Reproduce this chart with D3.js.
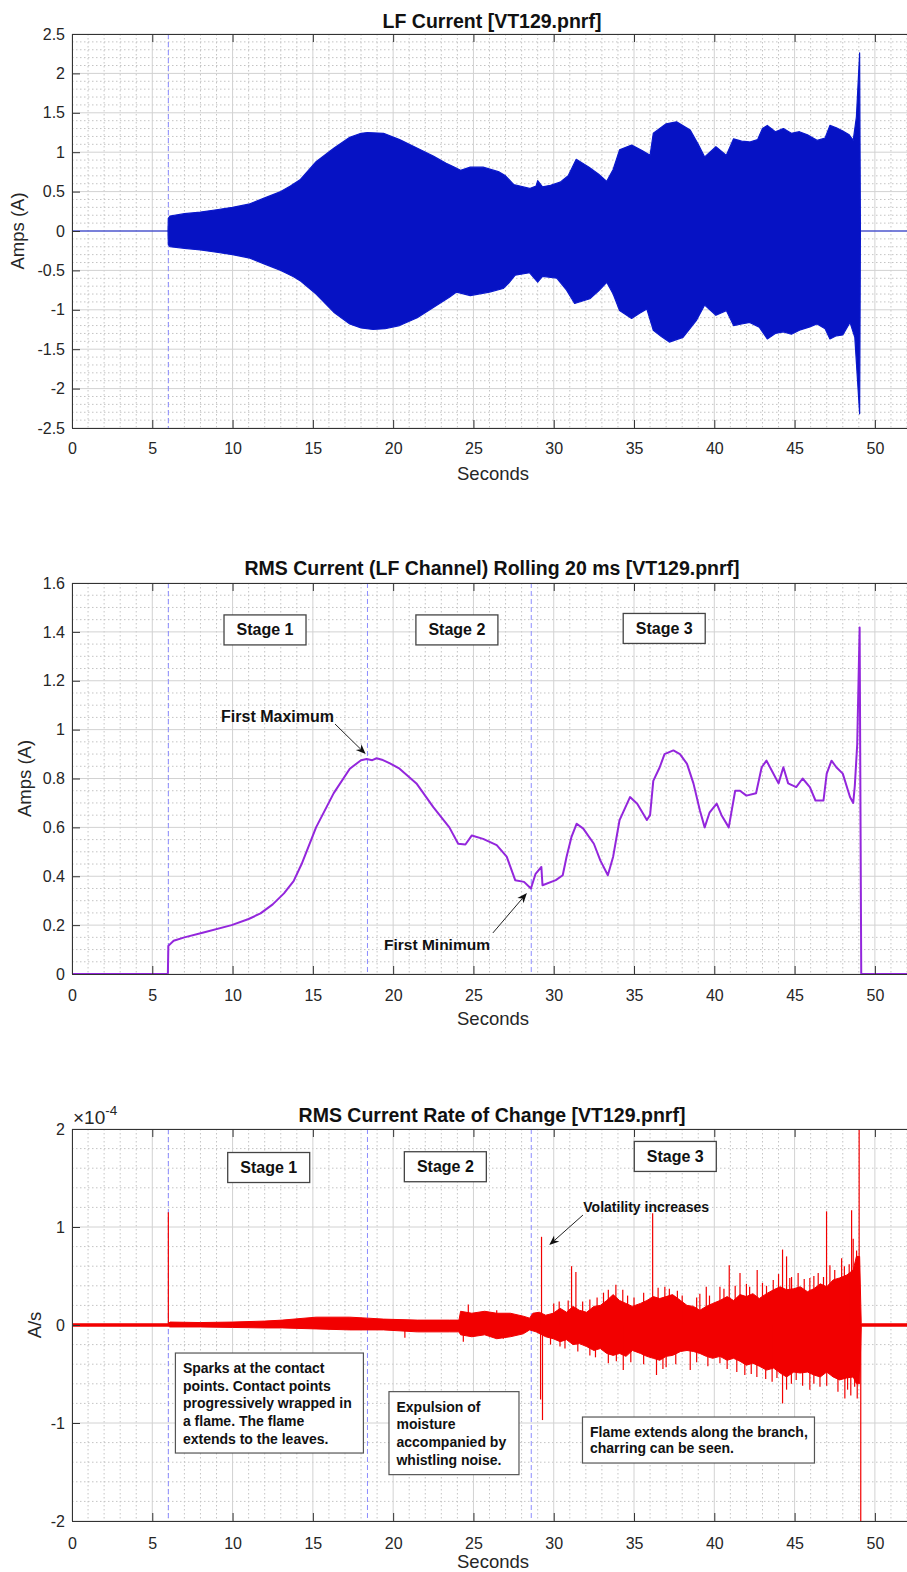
<!DOCTYPE html>
<html>
<head>
<meta charset="utf-8">
<script src="https://cdn.jsdelivr.net/npm/d3@7"></script>
<style>
  body { margin: 0; background: #fff; }
  svg { display: block; }
</style>
</head>
<body>
<svg id="fig" width="907" height="1572"></svg>
<script>
// ---------- data ----------
// Shared time axis (seconds)
const xTicks = [0, 5, 10, 15, 20, 25, 30, 35, 40, 45, 50];
const xTickLabels = ["0", "5", "10", "15", "20", "25", "30", "35", "40", "45", "50"];
const stageBounds = [6.0, 18.4, 28.6];

// LF current: positive and negative envelope of the mains-frequency waveform [s, A]
const lfUpper = [
  [0, 0], [5.98, 0], [6.0, 0.16], [6.1, 0.19], [7, 0.22], [8, 0.24], [9, 0.27], [10, 0.30],
  [11, 0.34], [12, 0.42], [13, 0.50], [13.6, 0.57], [14.2, 0.65], [15.2, 0.88], [16.3, 1.05],
  [17.3, 1.19], [18.0, 1.24], [18.4, 1.25], [19.4, 1.24], [20.4, 1.16], [21.7, 1.03],
  [22.5, 0.95], [23.3, 0.86], [23.7, 0.82], [24.2, 0.77], [24.8, 0.81], [25.6, 0.81],
  [26.6, 0.75], [27.0, 0.70], [27.5, 0.59], [28.5, 0.54], [28.9, 0.57], [29.0, 0.64],
  [29.3, 0.56], [29.8, 0.58], [30.4, 0.62], [30.9, 0.70], [31.4, 0.91], [32.2, 0.81],
  [32.8, 0.72], [33.3, 0.63], [33.7, 0.78], [34.1, 1.03], [34.85, 1.09], [35.5, 1.02],
  [36.0, 0.96], [36.2, 1.24], [36.6, 1.30], [37.0, 1.36], [37.65, 1.385], [38.5, 1.28],
  [39.0, 1.10], [39.4, 0.94], [40.1, 1.07], [40.4, 1.02], [40.75, 0.96], [41.2, 1.17],
  [41.7, 1.14], [42.2, 1.13], [42.7, 1.16], [43.0, 1.30], [43.3, 1.34], [43.8, 1.26],
  [44.3, 1.30], [44.8, 1.24], [45.3, 1.26], [45.8, 1.22], [46.4, 1.15], [46.9, 1.18],
  [47.2, 1.34], [47.6, 1.31], [48.0, 1.27], [48.4, 1.22], [48.65, 1.15], [48.85, 1.45],
  [49.05, 2.26], [49.1, 0], [52, 0]
];
const lfLower = [
  [0, 0], [5.98, 0], [6.0, -0.17], [6.1, -0.20], [7, -0.22], [8, -0.24], [9, -0.27],
  [10, -0.30], [11, -0.34], [12, -0.42], [13, -0.50], [13.8, -0.58], [14.2, -0.63],
  [15.2, -0.80], [16.3, -1.03], [17.3, -1.18], [18.0, -1.23], [18.75, -1.25], [19.5, -1.24],
  [20.4, -1.20], [21.5, -1.10], [22.5, -0.97], [23.5, -0.84], [23.95, -0.775], [24.8, -0.82],
  [26.0, -0.775], [26.85, -0.73], [27.2, -0.66], [27.6, -0.56], [28.5, -0.53], [29.0, -0.65],
  [29.3, -0.575], [30.2, -0.60], [30.8, -0.75], [31.3, -0.92], [32.25, -0.86], [32.8, -0.76],
  [33.3, -0.65], [33.7, -0.80], [34.1, -1.01], [34.85, -1.11], [35.3, -1.05], [35.8, -0.99],
  [36.2, -1.26], [36.7, -1.34], [37.2, -1.41], [38.05, -1.35], [38.9, -1.13], [39.4, -0.94],
  [40.1, -1.07], [40.75, -1.01], [41.2, -1.20], [41.7, -1.18], [42.2, -1.16], [42.8, -1.22],
  [43.3, -1.37], [43.8, -1.30], [44.3, -1.28], [44.8, -1.31], [45.3, -1.26], [45.9, -1.22],
  [46.4, -1.18], [46.9, -1.24], [47.2, -1.37], [47.6, -1.33], [48.0, -1.32], [48.45, -1.16],
  [48.75, -1.35], [49.05, -2.32], [49.1, 0], [52, 0]
];

// RMS current, rolling 20 ms window [s, A]
const rmsCurrent = [
  [0, 0], [5.97, 0], [6.0, 0.115], [6.33, 0.136], [7, 0.15], [8.13, 0.169], [9.94, 0.20],
  [11.0, 0.225], [11.74, 0.248], [12.5, 0.285], [13.2, 0.33], [13.8, 0.38], [14.3, 0.45],
  [15.2, 0.60], [16.3, 0.74], [17.3, 0.84], [18.0, 0.875], [18.35, 0.88], [18.7, 0.875],
  [18.97, 0.883], [19.3, 0.877], [19.8, 0.862], [20.4, 0.84], [21.45, 0.78], [22.5, 0.683],
  [23.5, 0.60], [24.05, 0.533], [24.5, 0.53], [24.9, 0.567], [25.6, 0.553], [26.45, 0.527],
  [27.07, 0.48], [27.24, 0.45], [27.6, 0.384], [28.15, 0.377], [28.58, 0.35], [28.87, 0.41],
  [29.23, 0.438], [29.3, 0.363], [30.13, 0.384], [30.56, 0.404], [30.8, 0.48], [31.1, 0.56],
  [31.43, 0.615], [31.84, 0.595], [32.5, 0.533], [32.9, 0.465], [33.37, 0.404], [33.7, 0.48],
  [34.1, 0.63], [34.75, 0.724], [35.2, 0.697], [35.8, 0.63], [36.0, 0.65], [36.2, 0.79],
  [36.6, 0.846], [36.9, 0.90], [37.45, 0.915], [37.86, 0.90], [38.3, 0.86], [38.7, 0.78],
  [39.1, 0.67], [39.4, 0.60], [39.7, 0.66], [40.15, 0.697], [40.45, 0.65], [40.9, 0.60],
  [41.3, 0.75], [41.6, 0.75], [42.0, 0.73], [42.6, 0.74], [42.95, 0.846], [43.25, 0.873],
  [43.6, 0.83], [44.0, 0.78], [44.3, 0.846], [44.6, 0.78], [45.1, 0.765], [45.5, 0.80],
  [45.95, 0.765], [46.3, 0.71], [46.8, 0.71], [47.0, 0.82], [47.3, 0.873], [47.6, 0.846],
  [48.0, 0.82], [48.45, 0.724], [48.65, 0.70], [48.75, 0.77], [48.9, 0.94], [49.05, 1.418],
  [49.15, 0], [52, 0]
];

// RMS rate of change, in units of 1e-4 A/s: dense core band plus isolated excursions
const rocUpper = [
  [0, 0.012], [6, 0.012], [6.1, 0.03], [8, 0.025], [10, 0.03], [12, 0.04], [13.1, 0.05],
  [15.2, 0.08], [17.3, 0.08], [18.4, 0.07], [19.4, 0.06], [21.5, 0.05], [23.5, 0.05],
  [24.1, 0.05], [24.2, 0.14], [24.9, 0.12], [25.7, 0.14], [26.45, 0.12], [27.3, 0.12],
  [28.1, 0.09], [28.5, 0.07], [28.7, 0.12], [29.1, 0.13], [29.5, 0.10], [29.97, 0.12],
  [30.4, 0.17], [30.8, 0.13], [31.2, 0.19], [31.6, 0.15], [32.05, 0.13], [32.5, 0.19],
  [32.9, 0.20], [33.3, 0.25], [33.7, 0.31], [34.1, 0.25], [34.5, 0.22], [34.9, 0.19],
  [35.4, 0.22], [35.8, 0.25], [36.2, 0.29], [36.6, 0.27], [37.0, 0.29], [37.4, 0.31],
  [37.9, 0.25], [38.3, 0.20], [38.7, 0.19], [39.1, 0.15], [39.5, 0.19], [39.9, 0.22],
  [40.35, 0.25], [40.8, 0.29], [41.2, 0.25], [41.6, 0.31], [42.0, 0.29], [42.4, 0.32],
  [42.8, 0.27], [43.25, 0.32], [43.7, 0.36], [44.1, 0.39], [44.5, 0.36], [44.95, 0.37],
  [45.35, 0.39], [45.8, 0.34], [46.2, 0.37], [46.6, 0.42], [47.0, 0.39], [47.4, 0.46],
  [47.8, 0.48], [48.25, 0.51], [48.65, 0.56], [48.85, 0.70], [49.05, 0.70], [49.15, 0.012],
  [52, 0.012]
];
const rocLower = [
  [0, -0.012], [6, -0.012], [6.1, -0.02], [8, -0.02], [10, -0.025], [12, -0.03],
  [13.1, -0.03], [15.2, -0.04], [17.3, -0.05], [19.4, -0.05], [21.5, -0.07], [23.5, -0.07],
  [24.1, -0.07], [24.2, -0.10], [24.9, -0.12], [25.7, -0.10], [26.45, -0.14], [27.3, -0.12],
  [28.1, -0.09], [28.5, -0.05], [28.9, -0.07], [29.5, -0.12], [29.97, -0.14], [30.4, -0.17],
  [30.8, -0.15], [31.2, -0.20], [31.6, -0.19], [32.05, -0.22], [32.5, -0.26], [32.9, -0.24],
  [33.3, -0.29], [33.7, -0.31], [34.1, -0.29], [34.5, -0.32], [34.9, -0.26], [35.4, -0.29],
  [35.8, -0.32], [36.2, -0.34], [36.6, -0.36], [37.0, -0.32], [37.4, -0.31], [37.9, -0.27],
  [38.3, -0.26], [38.7, -0.27], [39.1, -0.29], [39.5, -0.32], [39.9, -0.34], [40.35, -0.32],
  [40.8, -0.36], [41.2, -0.34], [41.6, -0.37], [42.0, -0.41], [42.4, -0.39], [42.8, -0.42],
  [43.25, -0.46], [43.7, -0.44], [44.1, -0.49], [44.5, -0.53], [44.95, -0.48], [45.35, -0.49],
  [45.8, -0.48], [46.2, -0.51], [46.6, -0.53], [47.0, -0.48], [47.4, -0.53], [47.8, -0.56],
  [48.25, -0.54], [48.65, -0.53], [48.85, -0.60], [49.05, -0.60], [49.15, -0.012],
  [52, -0.012]
];
const rocSpikes = [
  [0.0, 2.5], [6.0, 1.15], [20.73, -0.13], [24.37, -0.17], [24.68, 0.21], [26.45, 0.15],
  [26.86, -0.14], [29.18, -0.76], [29.24, 0.90], [29.3, -0.97], [29.8, -0.20], [30.0, 0.22],
  [30.34, 0.24], [30.39, -0.22], [30.7, -0.24], [30.9, 0.25], [31.11, 0.60], [31.38, 0.54],
  [31.5, -0.27], [31.8, 0.24], [32.25, 0.26], [32.25, -0.31], [32.6, -0.33], [32.7, 0.28],
  [33.1, 0.33], [33.4, 0.36], [33.4, -0.39], [33.87, 0.41], [33.9, -0.37], [34.3, 0.36],
  [34.33, -0.46], [34.6, 0.30], [34.8, -0.38], [35.0, 0.28], [35.6, 0.33], [35.6, -0.40],
  [36.16, 1.14], [36.4, -0.51], [36.5, 0.38], [36.8, -0.45], [36.92, 0.39], [37.0, -0.43],
  [37.2, 0.37], [37.6, -0.40], [37.7, 0.35], [38.0, 0.30], [38.5, -0.46], [38.9, 0.28],
  [38.9, -0.38], [39.1, 0.32], [39.5, 0.39], [39.6, -0.42], [39.7, 0.30], [40.35, 0.39],
  [40.35, -0.39], [40.6, 0.37], [40.8, -0.45], [40.93, 0.61], [41.3, 0.40], [41.4, -0.48],
  [41.6, 0.53], [41.9, -0.51], [42.0, 0.42], [42.2, 0.39], [42.3, -0.50], [42.65, -0.53],
  [42.67, 0.56], [43.0, 0.43], [43.2, -0.55], [43.25, 0.40], [43.6, -0.58], [43.67, 0.46],
  [43.9, -0.54], [44.0, 0.52], [44.25, 0.77], [44.25, -0.80], [44.5, 0.70], [44.5, -0.66],
  [44.7, 0.48], [44.8, -0.60], [44.81, 0.49], [45.1, -0.56], [45.22, 0.53], [45.5, -0.62],
  [45.6, 0.47], [45.95, 0.48], [45.95, -0.66], [46.2, 0.50], [46.2, -0.60], [46.47, 0.53],
  [46.58, -0.63], [46.8, 0.49], [46.99, 1.16], [47.0, -0.62], [47.2, 0.61], [47.4, -0.53],
  [47.5, 0.56], [47.6, 0.42], [47.7, -0.68], [47.93, 0.68], [48.1, 0.60], [48.13, -0.75],
  [48.24, 0.49], [48.3, -0.66], [48.4, 0.62], [48.5, -0.72], [48.55, 1.17], [48.65, 0.88],
  [48.74, -0.63], [48.86, 0.76], [48.9, -0.75], [49.02, 2.5], [49.12, -2.5]
];

// Panel tick sets
const lfTicks = [-2.5, -2, -1.5, -1, -0.5, 0, 0.5, 1, 1.5, 2, 2.5];
const lfTickLabels = ["-2.5", "-2", "-1.5", "-1", "-0.5", "0", "0.5", "1", "1.5", "2", "2.5"];
const rmsTicks = [0, 0.2, 0.4, 0.6, 0.8, 1, 1.2, 1.4, 1.6];
const rmsTickLabels = ["0", "0.2", "0.4", "0.6", "0.8", "1", "1.2", "1.4", "1.6"];
const rocTicks = [-2, -1, 0, 1, 2];
const rocTickLabels = ["-2", "-1", "0", "1", "2"];

// ---------- drawing ----------
const FONT = '"Liberation Sans", Arial, Helvetica, sans-serif';
const AX = "#333333";
const PLOT_L = 72, PLOT_R = 907;
const svg = d3.select("#fig");
svg.append("rect").attr("width", 907).attr("height", 1572).attr("fill", "#fff");

function arrow(g, x1, y1, x2, y2) {
  const ang = Math.atan2(y2 - y1, x2 - x1);
  const L = 10, Wd = 4;
  const bx = x2 - L * Math.cos(ang), by = y2 - L * Math.sin(ang);
  const nx = x2 - 0.7 * L * Math.cos(ang), ny = y2 - 0.7 * L * Math.sin(ang);
  const px = -Math.sin(ang) * Wd, py = Math.cos(ang) * Wd;
  g.append("line").attr("x1", x1).attr("y1", y1).attr("x2", nx).attr("y2", ny)
    .attr("stroke", "#222").attr("stroke-width", 1);
  g.append("path")
    .attr("d", `M${x2},${y2}L${bx + px},${by + py}L${nx},${ny}L${bx - px},${by - py}Z`)
    .attr("fill", "#111");
}

function panel(o) {
  const x = d3.scaleLinear().domain([0, 52]).range([PLOT_L, PLOT_R]);
  const y = d3.scaleLinear().domain(o.yDomain).range([o.bottom, o.top]);
  const g = svg.append("g");

  svg.append("clipPath").attr("id", "clip-" + o.id)
    .append("rect").attr("x", PLOT_L).attr("y", o.top)
    .attr("width", PLOT_R - PLOT_L).attr("height", o.bottom - o.top);

  // minor grid (dotted)
  const eps = 1e-9;
  const isMajor = (v, arr) => arr.some(a => Math.abs(a - v) < 1e-6);
  const minorX = d3.range(0, 52 + eps, 1).filter(v => !isMajor(v, xTicks));
  const minorY = d3.range(o.yDomain[0], o.yDomain[1] + eps, o.minorStep)
    .map(v => +v.toFixed(6)).filter(v => !isMajor(v, o.yTicks));
  const grid = g.append("g");
  grid.selectAll(".mx").data(minorX).join("line")
    .attr("x1", d => x(d)).attr("x2", d => x(d)).attr("y1", o.top).attr("y2", o.bottom)
    .attr("stroke", "#c4c4c4").attr("stroke-dasharray", "1.5,2.5");
  grid.selectAll(".my").data(minorY).join("line")
    .attr("y1", d => y(d)).attr("y2", d => y(d)).attr("x1", PLOT_L).attr("x2", PLOT_R)
    .attr("stroke", "#c4c4c4").attr("stroke-dasharray", "1.5,2.5");
  // major grid (solid)
  grid.selectAll(".gx").data(xTicks).join("line")
    .attr("x1", d => x(d)).attr("x2", d => x(d)).attr("y1", o.top).attr("y2", o.bottom)
    .attr("stroke", "#d2d2d2");
  grid.selectAll(".gy").data(o.yTicks).join("line")
    .attr("y1", d => y(d)).attr("y2", d => y(d)).attr("x1", PLOT_L).attr("x2", PLOT_R)
    .attr("stroke", "#d2d2d2");

  // stage boundaries
  g.append("g").selectAll("line").data(o.stageLines).join("line")
    .attr("x1", d => x(d)).attr("x2", d => x(d)).attr("y1", o.top).attr("y2", o.bottom)
    .attr("stroke", "#8c8cff").attr("stroke-dasharray", "5,3");

  const data = g.append("g").attr("clip-path", `url(#clip-${o.id})`);
  o.draw(data, x, y);

  // axes with inward ticks
  const styleAxis = sel => {
    sel.attr("font-family", FONT).attr("font-size", 16);
    sel.select(".domain").attr("stroke", AX);
    sel.selectAll(".tick line").attr("stroke", AX);
    sel.selectAll(".tick text").attr("fill", "#262626");
  };
  g.append("g").attr("transform", `translate(0,${o.bottom})`)
    .call(d3.axisBottom(x).tickValues(xTicks).tickFormat((d, i) => xTickLabels[i])
      .tickSizeInner(-8).tickSizeOuter(0).tickPadding(o.tickBase - o.bottom - 11.4))
    .call(styleAxis);
  g.append("g").attr("transform", `translate(0,${o.top})`)
    .call(d3.axisTop(x).tickValues(xTicks).tickFormat(() => "")
      .tickSizeInner(-8).tickSizeOuter(0))
    .call(styleAxis);
  g.append("g").attr("transform", `translate(${PLOT_L},0)`)
    .call(d3.axisLeft(y).tickValues(o.yTicks).tickFormat((d, i) => o.yTickLabels[i])
      .tickSizeInner(-8).tickSizeOuter(0).tickPadding(7))
    .call(styleAxis);

  // titles and labels
  g.append("text").attr("x", 492).attr("y", o.titleBase).attr("text-anchor", "middle")
    .attr("font-family", FONT).attr("font-weight", "bold").attr("font-size", 19.5)
    .attr("fill", "#111").text(o.title);
  g.append("text").attr("x", 493).attr("y", o.xlabBase).attr("text-anchor", "middle")
    .attr("font-family", FONT).attr("font-size", 18.5).attr("fill", "#262626").text("Seconds");
  g.append("text").attr("transform", `translate(${o.ylabX},${(o.top + o.bottom) / 2}) rotate(-90)`)
    .attr("text-anchor", "middle").attr("font-family", FONT).attr("font-size", 18.5)
    .attr("fill", "#262626").text(o.ylabel);

  // stage boxes
  (o.stages || []).forEach(s => {
    const cx = x(s.t), cy = y(s.v);
    g.append("rect").attr("x", cx - 41).attr("y", cy - 15).attr("width", 82).attr("height", 30)
      .attr("fill", "#fff").attr("stroke", "#444").attr("stroke-width", 1.3);
    g.append("text").attr("x", cx).attr("y", cy + 5.5).attr("text-anchor", "middle")
      .attr("font-family", FONT).attr("font-weight", "bold").attr("font-size", 16)
      .attr("fill", "#111").text(s.label);
  });

  // callouts with arrows
  (o.callouts || []).forEach(c => {
    arrow(g, x(c.from[0]), y(c.from[1]), x(c.to[0]), y(c.to[1]));
    g.append("text").attr("x", x(c.at[0])).attr("y", y(c.at[1]) + 5).attr("text-anchor", "middle")
      .attr("font-family", FONT).attr("font-weight", "bold").attr("font-size", c.size)
      .attr("fill", "#111").text(c.text);
  });

  // note boxes
  (o.notes || []).forEach(n => {
    const lx = x(n.t), ty = y(n.v);
    g.append("rect").attr("x", lx).attr("y", ty).attr("width", n.w).attr("height", n.h)
      .attr("fill", "#fff").attr("stroke", "#555").attr("stroke-width", 1.2);
    n.lines.forEach((ln, i) => {
      g.append("text").attr("x", lx + 7.5).attr("y", ty + 20 + i * n.lh)
        .attr("font-family", FONT).attr("font-weight", "bold").attr("font-size", 14)
        .attr("fill", "#111").text(ln);
    });
  });

  return { g, x, y };
}

const polyLine = (x, y) => d3.line().x(d => x(d[0])).y(d => y(d[1]));

// Panel 1: LF current
panel({
  id: "lf", top: 34, bottom: 428, yDomain: [-2.5, 2.5],
  yTicks: lfTicks, yTickLabels: lfTickLabels, minorStep: 0.1,
  stageLines: [stageBounds[0]],
  title: "LF Current [VT129.pnrf]", titleBase: 28, tickBase: 454, xlabBase: 480,
  ylabel: "Amps (A)", ylabX: 24,
  draw: (g, x, y) => {
    const outline = lfUpper.concat(lfLower.slice().reverse());
    g.append("path").attr("d", polyLine(x, y)(outline) + "Z")
      .attr("fill", "#0612c4").attr("stroke", "#0a18cc").attr("stroke-width", 1.2)
      .attr("stroke-linejoin", "round");
  }
});

// Panel 2: RMS current
panel({
  id: "rms", top: 583, bottom: 974, yDomain: [0, 1.6],
  yTicks: rmsTicks, yTickLabels: rmsTickLabels, minorStep: 0.05,
  stageLines: stageBounds,
  title: "RMS Current (LF Channel) Rolling 20 ms [VT129.pnrf]", titleBase: 575,
  tickBase: 1001, xlabBase: 1025, ylabel: "Amps (A)", ylabX: 31,
  stages: [
    { t: 12.02, v: 1.408, label: "Stage 1" },
    { t: 23.97, v: 1.408, label: "Stage 2" },
    { t: 36.88, v: 1.414, label: "Stage 3" }
  ],
  callouts: [
    { text: "First Maximum", at: [12.8, 1.052], from: [16.38, 1.023], to: [18.29, 0.90], size: 16 },
    { text: "First Minimum", at: [22.73, 0.119], from: [26.21, 0.168], to: [28.33, 0.331], size: 15.5 }
  ],
  draw: (g, x, y) => {
    g.append("path").attr("d", polyLine(x, y)(rmsCurrent))
      .attr("fill", "none").attr("stroke", "#9326dc").attr("stroke-width", 2)
      .attr("stroke-linejoin", "round");
  }
});

// Panel 3: rate of change of RMS current
const p3 = panel({
  id: "roc", top: 1129, bottom: 1521, yDomain: [-2, 2],
  yTicks: rocTicks, yTickLabels: rocTickLabels, minorStep: 0.2,
  stageLines: stageBounds,
  title: "RMS Current Rate of Change [VT129.pnrf]", titleBase: 1122,
  tickBase: 1549, xlabBase: 1568, ylabel: "A/s", ylabX: 41,
  stages: [
    { t: 12.25, v: 1.607, label: "Stage 1" },
    { t: 23.25, v: 1.615, label: "Stage 2" },
    { t: 37.57, v: 1.72, label: "Stage 3" }
  ],
  callouts: [
    { text: "Volatility increases", at: [35.76, 1.207], from: [31.82, 1.122], to: [29.72, 0.816], size: 14 }
  ],
  notes: [
    { t: 6.44, v: -0.286, w: 188, h: 100, lh: 17.7,
      lines: ["Sparks at the contact", "points. Contact points", "progressively wrapped in",
              "a flame. The flame", "extends to the leaves."] },
    { t: 19.74, v: -0.68, w: 130, h: 83, lh: 17.7,
      lines: ["Expulsion of", "moisture", "accompanied by", "whistling noise."] },
    { t: 31.79, v: -0.939, w: 232, h: 46, lh: 16.3,
      lines: ["Flame extends along the branch,", "charring can be seen."] }
  ],
  draw: (g, x, y) => {
    const band = rocUpper.concat(rocLower.slice().reverse());
    g.append("path").attr("d", polyLine(x, y)(band) + "Z")
      .attr("fill", "#f20000").attr("stroke", "#f20000").attr("stroke-width", 1);
    g.selectAll(".spk").data(rocSpikes).join("line")
      .attr("x1", d => x(d[0])).attr("x2", d => x(d[0]))
      .attr("y1", y(0)).attr("y2", d => y(d[1]))
      .attr("stroke", "#f20000").attr("stroke-width", 1.2);
  }
});

// axis exponent label
p3.g.append("text").attr("x", 73).attr("y", 1124).attr("font-family", FONT)
  .attr("font-size", 19).attr("fill", "#262626")
  .text("\u00d710")
  .append("tspan").attr("dy", -9).attr("font-size", 13.5).text("-4");
</script>
</body>
</html>
